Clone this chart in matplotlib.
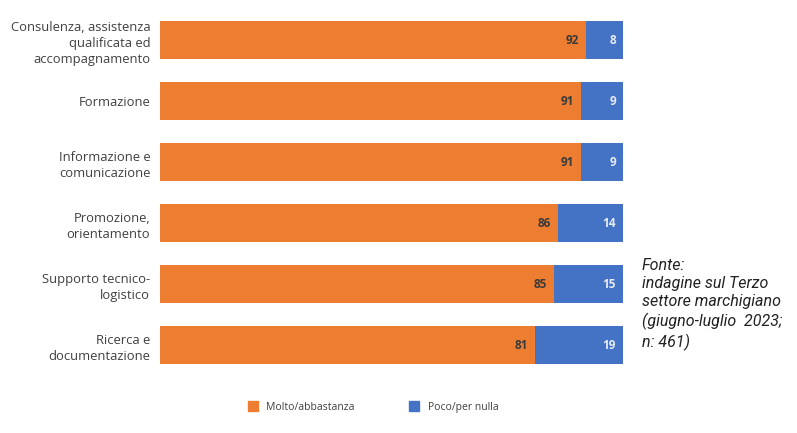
import matplotlib.pyplot as plt
from matplotlib.patches import Patch

# dati
categorie = ['Consulenza, assistenza\nqualificata ed\naccompagnamento',
             'Formazione',
             'Informazione e\ncomunicazione',
             'Promozione,\norientamento',
             'Supporto tecnico-\nlogistico',
             'Ricerca e\ndocumentazione']
molto = [92, 91, 91, 86, 85, 81]
poco = [8, 9, 9, 14, 15, 19]

arancio = '#ED7D31'
blu = '#4472C4'

plt.rcParams['font.family'] = ['Open Sans', 'DejaVu Sans']

fig = plt.figure(figsize=(7.97, 4.33), dpi=100)
ax = fig.add_axes([0.2008, 0.1328, 0.581, 0.845])

y = list(range(len(categorie)))
ax.barh(y, molto, height=0.63, color=arancio)
ax.barh(y, poco, left=molto, height=0.63, color=blu)

for i in y:
    ax.text(molto[i] - 1.5, i, str(molto[i]), ha='right', va='center',
            fontsize=8.5, fontweight='bold', color='#3a3a3a')
    ax.text(100 - 1.5, i, str(poco[i]), ha='right', va='center',
            fontsize=8.5, fontweight='bold', color='#e8ecf5')

ax.set_xlim(0, 100)
ax.set_ylim(5.5, -0.5)
ax.set_yticks(y)
ax.set_yticklabels(categorie, fontsize=9.4, color='#404040', linespacing=1.3)
ax.tick_params(axis='y', length=0, pad=7)
ax.set_xticks([])
for s in ax.spines.values():
    s.set_visible(False)

handles = [Patch(color=arancio, label='Molto/abbastanza'),
           Patch(color=blu, label='Poco/per nulla')]
fig.legend(handles=handles, loc='center', bbox_to_anchor=(0.468, 0.06),
           ncol=2, frameon=False, fontsize=7.5, labelcolor='#404040',
           handlelength=1.0, handleheight=1.0, columnspacing=5.2, handletextpad=0.8)

fig.text(0.805, 0.405, 'Fonte:\nindagine sul Terzo\nsettore marchigiano\n(giugno-luglio  2023;\nn: 461)',
         ha='left', va='top', fontsize=11.5, style='italic', color='#222222',
         family=['Roboto', 'DejaVu Sans'], linespacing=1.28)

fig.savefig('out.png', dpi=100)
